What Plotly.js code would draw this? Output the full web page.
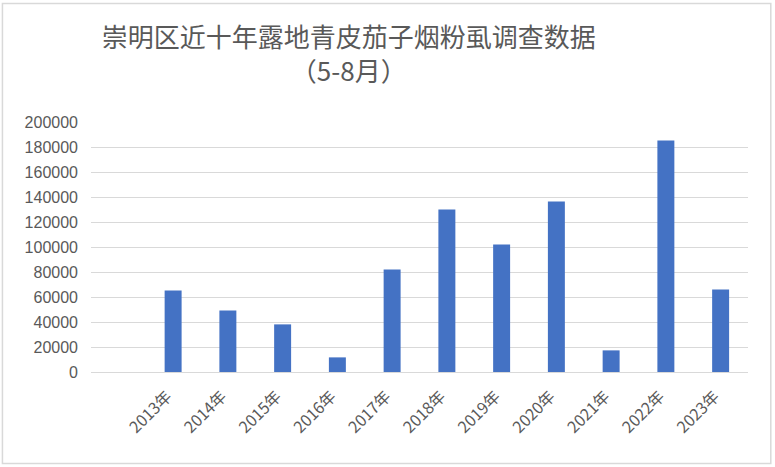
<!DOCTYPE html>
<html>
<head>
<meta charset="utf-8">
<script src="https://cdn.plot.ly/plotly-3.0.1.min.js"></script>
<style>
  html, body { margin: 0; padding: 0; background: #fff; }
  #plot { width: 775px; height: 467px; }
</style>
</head>
<body>
<div id="plot"></div>
<script>
const years = ["2013年", "2014年", "2015年", "2016年", "2017年", "2018年",
               "2019年", "2020年", "2021年", "2022年", "2023年"];
const counts = [65300, 49300, 38100, 11700, 82100, 130100,
                102100, 136500, 17300, 185300, 66100];
const yTicks = [0, 20000, 40000, 60000, 80000, 100000, 120000, 140000, 160000, 180000, 200000];

const gray = "#595959";
const gridGray = "#d9d9d9";

const trace = {
  x: years,
  y: counts,
  type: "bar",
  marker: { color: "#4472c4" },
  hoverinfo: "x+y",
};

const layout = {
  width: 775,
  height: 467,
  paper_bgcolor: "#fff",
  plot_bgcolor: "#fff",
  margin: { l: 91, r: 27, t: 122, b: 95 },
  bargap: 0.69,
  showlegend: false,
  title: {
    text: "崇明区近十年露地青皮茄子烟粉虱调查数据<br>（5-8月）",
    font: { family: "Noto Sans CJK SC", size: 26, color: gray },
    xref: "container",
    yref: "container",
    x: 0.45,
    xanchor: "center",
    y: 0.9,
    yanchor: "top",
  },
  xaxis: {
    type: "category",
    range: [-1.5, 10.5],
    tickangle: -45,
    tickfont: { family: "Noto Sans CJK SC", size: 16, color: gray },
    showgrid: false,
    showline: false,
    zeroline: false,
    ticks: "",
    ticklabelstandoff: 11,
    ticklabelshift: -6,
  },
  yaxis: {
    range: [0, 200000],
    tickvals: yTicks,
    ticktext: yTicks.map(String),
    tickfont: { family: "Liberation Sans", size: 16, color: gray },
    gridcolor: gridGray,
    gridwidth: 1.3,
    zeroline: true,
    zerolinecolor: gridGray,
    zerolinewidth: 1.3,
    showline: false,
    ticks: "",
    ticklabelstandoff: 12,
  },
  shapes: [{
    type: "rect",
    xref: "paper",
    yref: "paper",
    x0: -0.1348, x1: 1.0347,
    y0: -0.366, y1: 1.474,
    line: { color: gridGray, width: 1.5 },
    fillcolor: "rgba(0,0,0,0)",
  }],
};

const config = { displayModeBar: false };

Plotly.newPlot("plot", [trace], layout, config);
</script>
</body>
</html>
